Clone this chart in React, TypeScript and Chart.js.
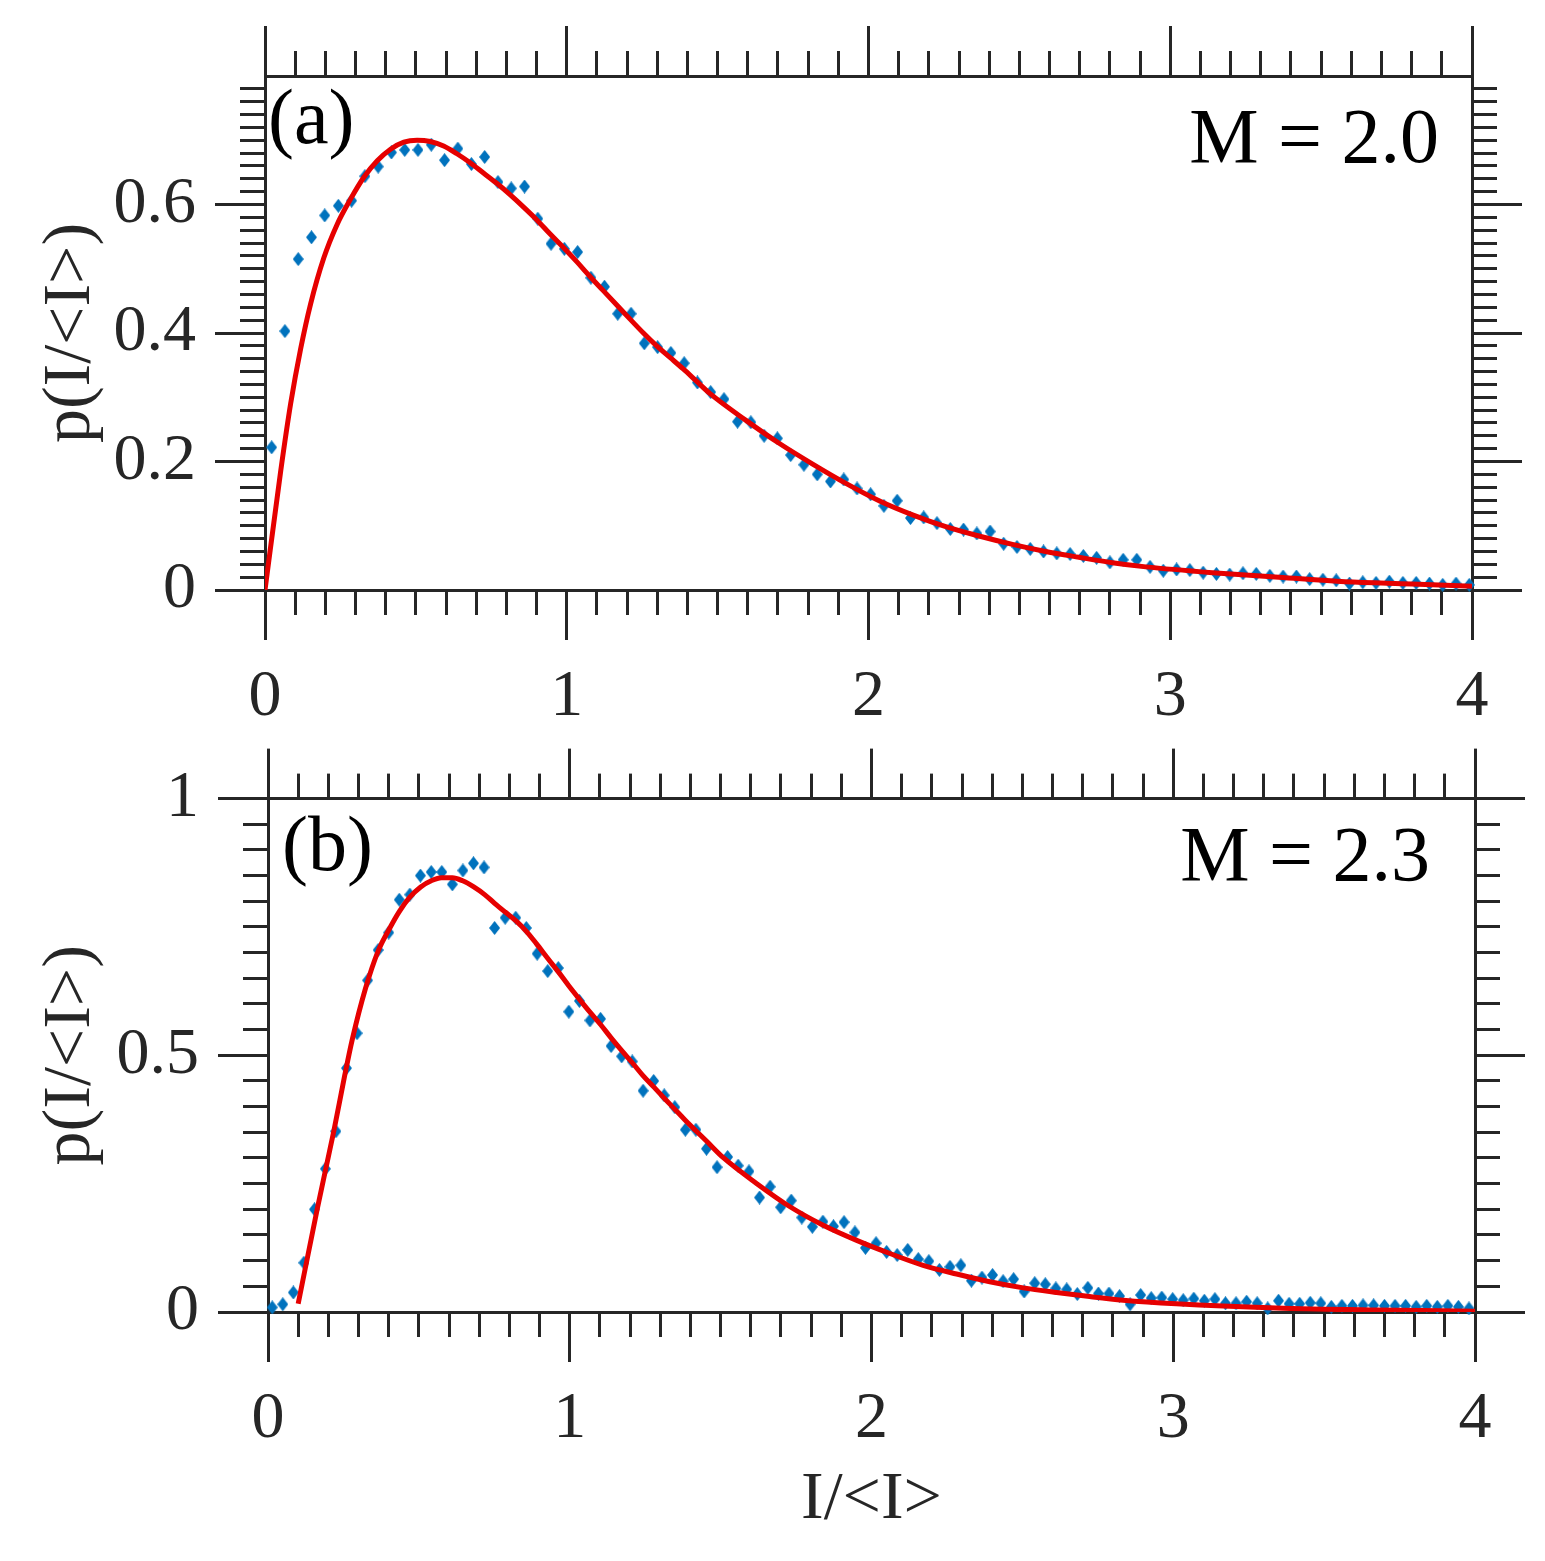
import React, { useEffect, useRef } from 'react';
import { Chart, registerables } from 'chart.js';

Chart.register(...registerables);

// ---------------- DATA ----------------
// Panel (a): measured histogram (blue diamonds)
const pointsAX = [
  0.022, 0.066, 0.110, 0.154, 0.198, 0.243, 0.287, 0.331, 0.375, 0.419,
  0.463, 0.507, 0.551, 0.595, 0.639, 0.684, 0.728, 0.772, 0.816, 0.860,
  0.904, 0.948, 0.992, 1.036, 1.080, 1.125, 1.169, 1.213, 1.257, 1.301,
  1.345, 1.389, 1.433, 1.477, 1.521, 1.566, 1.610, 1.654, 1.698, 1.742,
  1.786, 1.830, 1.874, 1.918, 1.962, 2.007, 2.051, 2.095, 2.139, 2.183,
  2.227, 2.271, 2.315, 2.359, 2.403, 2.448, 2.492, 2.536, 2.580, 2.624,
  2.668, 2.712, 2.756, 2.800, 2.844, 2.889, 2.933, 2.977, 3.021, 3.065,
  3.109, 3.153, 3.197, 3.241, 3.285, 3.330, 3.374, 3.418, 3.462, 3.506,
  3.550, 3.594, 3.638, 3.682, 3.726, 3.771, 3.815, 3.859, 3.903, 3.947,
  3.991,
];
const pointsAY = [
  0.222, 0.403, 0.515, 0.549, 0.583, 0.598, 0.606, 0.644, 0.659, 0.681,
  0.685, 0.685, 0.693, 0.669, 0.687, 0.663, 0.674, 0.635, 0.625, 0.628,
  0.578, 0.539, 0.531, 0.526, 0.486, 0.472, 0.430, 0.430, 0.384, 0.378,
  0.369, 0.353, 0.323, 0.308, 0.297, 0.262, 0.261, 0.240, 0.236, 0.210,
  0.195, 0.180, 0.169, 0.172, 0.158, 0.149, 0.131, 0.139, 0.112, 0.113,
  0.104, 0.095, 0.094, 0.088, 0.091, 0.072, 0.067, 0.064, 0.060, 0.057,
  0.056, 0.053, 0.050, 0.043, 0.047, 0.047, 0.036, 0.030, 0.032, 0.031,
  0.027, 0.025, 0.024, 0.026, 0.025, 0.022, 0.021, 0.021, 0.017, 0.016,
  0.015, 0.010, 0.012, 0.011, 0.013, 0.011, 0.011, 0.010, 0.008, 0.010,
  0.008,
];
// Panel (a): fitted curve (red)
const curveAX = [
  0, 0.052, 0.085, 0.118, 0.151, 0.195, 0.239, 0.283, 0.327, 0.372,
  0.416, 0.460, 0.504, 0.548, 0.592, 0.636, 0.680, 0.724, 0.768, 0.813,
  0.857, 0.901, 0.945, 0.989, 1.033, 1.077, 1.121, 1.165, 1.209, 1.254,
  1.298, 1.342, 1.386, 1.430, 1.474, 1.594, 1.705, 1.815, 1.925, 2.035,
  2.146, 2.256, 2.366, 2.477, 2.587, 2.697, 2.808, 2.919, 3.140, 3.360,
  3.580, 3.800, 4.000,
];
const curveAY = [
  0, 0.185, 0.290, 0.375, 0.445, 0.517, 0.569, 0.608, 0.642, 0.668,
  0.686, 0.697, 0.700, 0.698, 0.691, 0.679, 0.665, 0.649, 0.633, 0.615,
  0.596, 0.576, 0.554, 0.533, 0.511, 0.488, 0.466, 0.444, 0.422, 0.400,
  0.380, 0.362, 0.344, 0.325, 0.306, 0.264, 0.228, 0.196, 0.166, 0.139,
  0.117, 0.0986, 0.084, 0.071, 0.060, 0.051, 0.0425, 0.036, 0.027, 0.020,
  0.013, 0.0095, 0.006,
];

// Panel (b): measured histogram (blue diamonds)
const pointsBX = [
  0.014, 0.049, 0.084, 0.119, 0.154, 0.190, 0.225, 0.260, 0.295, 0.330,
  0.365, 0.400, 0.435, 0.470, 0.505, 0.541, 0.576, 0.611, 0.646, 0.681,
  0.716, 0.751, 0.786, 0.821, 0.856, 0.892, 0.927, 0.962, 0.997, 1.032,
  1.067, 1.102, 1.137, 1.172, 1.207, 1.243, 1.278, 1.313, 1.348, 1.383,
  1.418, 1.453, 1.488, 1.523, 1.558, 1.594, 1.629, 1.664, 1.699, 1.734,
  1.769, 1.804, 1.839, 1.874, 1.909, 1.945, 1.980, 2.015, 2.050, 2.085,
  2.120, 2.155, 2.190, 2.225, 2.260, 2.296, 2.331, 2.366, 2.401, 2.436,
  2.471, 2.506, 2.541, 2.576, 2.611, 2.647, 2.682, 2.717, 2.752, 2.787,
  2.822, 2.857, 2.892, 2.927, 2.962, 2.998, 3.033, 3.068, 3.103, 3.138,
  3.173, 3.208, 3.243, 3.278, 3.313, 3.349, 3.384, 3.419, 3.454, 3.489,
  3.524, 3.559, 3.594, 3.629, 3.664, 3.700, 3.735, 3.770, 3.805, 3.840,
  3.875, 3.910, 3.945, 3.980,
];
const pointsBY = [
  0.009, 0.015, 0.038, 0.096, 0.200, 0.279, 0.352, 0.475, 0.543, 0.646,
  0.705, 0.739, 0.803, 0.813, 0.850, 0.857, 0.857, 0.833, 0.860, 0.874,
  0.866, 0.748, 0.768, 0.768, 0.748, 0.698, 0.664, 0.670, 0.585, 0.606,
  0.568, 0.571, 0.518, 0.498, 0.488, 0.431, 0.450, 0.422, 0.399, 0.355,
  0.355, 0.318, 0.282, 0.302, 0.285, 0.274, 0.223, 0.244, 0.204, 0.217,
  0.184, 0.166, 0.176, 0.167, 0.175, 0.155, 0.125, 0.134, 0.117, 0.111,
  0.121, 0.103, 0.099, 0.082, 0.088, 0.091, 0.061, 0.067, 0.072, 0.060,
  0.064, 0.040, 0.056, 0.054, 0.046, 0.044, 0.035, 0.047, 0.036, 0.036,
  0.031, 0.015, 0.033, 0.027, 0.028, 0.025, 0.023, 0.026, 0.022, 0.025,
  0.017, 0.017, 0.020, 0.017, 0.007, 0.022, 0.016, 0.016, 0.018, 0.017,
  0.010, 0.012, 0.012, 0.013, 0.013, 0.012, 0.012, 0.012, 0.010, 0.012,
  0.010, 0.012, 0.010, 0.007,
];
// Panel (b): fitted curve (red)
const curveBX = [
  0.100, 0.163, 0.1915, 0.218, 0.254, 0.279, 0.323, 0.365, 0.401, 0.435,
  0.470, 0.506, 0.541, 0.575, 0.611, 0.645, 0.682, 0.718, 0.751, 0.786,
  0.822, 0.857, 0.890, 0.928, 0.963, 0.996, 1.031, 1.067, 1.102, 1.137,
  1.171, 1.208, 1.242, 1.279, 1.314, 1.348, 1.382, 1.418, 1.453, 1.510,
  1.620, 1.730, 1.840, 1.949, 2.061, 2.171, 2.282, 2.392, 2.503, 2.613,
  2.723, 2.834, 3.010, 3.341, 3.672, 4.000,
];
const curveBY = [
  0.016, 0.200, 0.279, 0.352, 0.460, 0.530, 0.630, 0.703, 0.745, 0.780,
  0.808, 0.828, 0.840, 0.846, 0.846, 0.840, 0.828, 0.813, 0.796, 0.779,
  0.762, 0.741, 0.717, 0.688, 0.662, 0.636, 0.610, 0.584, 0.560, 0.534,
  0.510, 0.485, 0.461, 0.438, 0.416, 0.395, 0.374, 0.353, 0.333, 0.300,
  0.250, 0.205, 0.169, 0.140, 0.114, 0.091, 0.074, 0.059, 0.047, 0.038,
  0.030, 0.023, 0.016, 0.008, 0.004, 0.0015,
];

// Tick labels and texts
const xTickLabels = ['0', '1', '2', '3', '4'];
const yTickLabelsA = ['0', '0.2', '0.4', '0.6'];
const yTickLabelsB = ['0', '0.5', '1'];
const yTitleText = 'p(I/<I>)';
const xTitleText = 'I/<I>';
const panelTags = ['(a)', '(b)'];
const mLabels = ['M = 2.0', 'M = 2.3'];

// ---------------- STYLE ----------------
const AXIS = '#262626';
const BLUE = '#0072BD';
const RED = '#e60000';
const FONT = '"Liberation Serif", "Times New Roman", serif';

function makeDiamond(w: number, h: number, color: string) {
  const c = document.createElement('canvas');
  c.width = w;
  c.height = h;
  const g = c.getContext('2d') as CanvasRenderingContext2D;
  g.fillStyle = color;
  g.beginPath();
  g.moveTo(w / 2, 0);
  g.lineTo(w, h / 2);
  g.lineTo(w / 2, h);
  g.lineTo(0, h / 2);
  g.closePath();
  g.fill();
  return c;
}

function labelFor(labels: string[]) {
  return (v: any) => {
    const n = Number(v);
    const f = labels.find((l) => Math.abs(Number(l) - n) < 1e-6);
    return f === undefined ? '' : f;
  };
}

interface PanelOpts {
  px: number[]; py: number[]; cx: number[]; cy: number[];
  yMax: number; yMajor: number; yMinor: number; yTickMax: number;
  yLabels: string[];
  leftW: number; rightW: number; topH: number; bottomH: number;
  showXTitle: boolean;
  tag: string; mText: string;
  tagDx: number; tagDy: number; mDx: number; mDy: number;
}

function buildConfig(o: PanelOpts, diamond: HTMLCanvasElement): any {
  const gridMajor = { drawOnChartArea: false, drawTicks: true, tickLength: 50, color: AXIS, lineWidth: 3 };
  const gridMinor = { drawOnChartArea: false, drawTicks: true, tickLength: 25, color: AXIS, lineWidth: 3 };
  const filterY = (s: any) => { s.ticks = s.ticks.filter((t: any) => t.value <= o.yTickMax + 1e-6); };
  const filterMinor = (s: any) => {
    s.ticks = s.ticks.filter((t: any) => t.value < o.yMax - 1e-6 || o.yTickMax >= o.yMax);
  };

  const annot = {
    id: 'annot',
    afterDatasetsDraw(chart: any) {
      const { ctx, chartArea } = chart;
      ctx.save();
      ctx.fillStyle = '#000';
      ctx.font = `78px ${FONT}`;
      ctx.textBaseline = 'alphabetic';
      ctx.textAlign = 'left';
      ctx.fillText(o.tag, chartArea.left + o.tagDx, chartArea.top + o.tagDy);
      ctx.textAlign = 'right';
      ctx.fillText(o.mText, chartArea.right - o.mDx, chartArea.top + o.mDy);
      ctx.restore();
    },
  };

  return {
    type: 'scatter',
    data: {
      datasets: [
        {
          label: 'fit',
          data: o.cx.map((x, i) => ({ x, y: o.cy[i] })),
          showLine: true,
          borderColor: RED,
          borderWidth: 5,
          pointRadius: 0,
          cubicInterpolationMode: 'monotone',
          fill: false,
          order: 0,
          xAxisID: 'x',
          yAxisID: 'y',
        },
        {
          label: 'data',
          data: o.px.map((x, i) => ({ x, y: o.py[i] })),
          showLine: false,
          pointStyle: diamond,
          pointRadius: 6,
          pointBackgroundColor: BLUE,
          pointBorderWidth: 0,
          order: 1,
          clip: false,
          xAxisID: 'x',
          yAxisID: 'y',
        },
      ],
    },
    options: {
      responsive: false,
      maintainAspectRatio: false,
      animation: false,
      events: [],
      layout: { padding: 0 },
      plugins: { legend: { display: false }, tooltip: { enabled: false }, title: { display: false } },
      scales: {
        x: {
          type: 'linear', axis: 'x', position: 'bottom', min: 0, max: 4, weight: 0,
          afterFit: (s: any) => { s.height = o.bottomH; },
          ticks: {
            stepSize: 1, padding: 18, autoSkip: false, maxRotation: 0,
            color: AXIS, font: { family: FONT, size: 66 },
            callback: labelFor(xTickLabels),
          },
          grid: gridMajor,
          border: { display: true, color: AXIS, width: 3 },
          title: {
            display: o.showXTitle, text: xTitleText, color: AXIS,
            font: { family: FONT, size: 68 }, padding: { top: 0, bottom: 20 },
          },
        },
        xMinor: {
          type: 'linear', axis: 'x', position: 'bottom', min: 0, max: 4, weight: -1,
          afterFit: (s: any) => { s.height = 0; },
          ticks: { stepSize: 0.1, display: false },
          grid: gridMinor,
          border: { display: false },
        },
        xTop: {
          type: 'linear', axis: 'x', position: 'top', min: 0, max: 4, weight: 0,
          afterFit: (s: any) => { s.height = o.topH; },
          ticks: { stepSize: 1, display: false },
          grid: gridMajor,
          border: { display: true, color: AXIS, width: 3 },
        },
        xTopMinor: {
          type: 'linear', axis: 'x', position: 'top', min: 0, max: 4, weight: -1,
          afterFit: (s: any) => { s.height = 0; },
          ticks: { stepSize: 0.1, display: false },
          grid: gridMinor,
          border: { display: false },
        },
        y: {
          type: 'linear', axis: 'y', position: 'left', min: 0, max: o.yMax, weight: 0,
          afterFit: (s: any) => { s.width = o.leftW; },
          afterBuildTicks: filterY,
          ticks: {
            stepSize: o.yMajor, padding: 19, autoSkip: false,
            color: AXIS, font: { family: FONT, size: 66 },
            callback: labelFor(o.yLabels),
          },
          grid: gridMajor,
          border: { display: true, color: AXIS, width: 3 },
          title: {
            display: true, text: yTitleText, color: AXIS,
            font: { family: FONT, size: 68 }, padding: { top: 30, bottom: 0 },
          },
        },
        yMinor: {
          type: 'linear', axis: 'y', position: 'left', min: 0, max: o.yMax, weight: -1,
          afterFit: (s: any) => { s.width = 0; },
          afterBuildTicks: filterMinor,
          ticks: { stepSize: o.yMinor, display: false },
          grid: gridMinor,
          border: { display: false },
        },
        yRight: {
          type: 'linear', axis: 'y', position: 'right', min: 0, max: o.yMax, weight: 0,
          afterFit: (s: any) => { s.width = o.rightW; },
          afterBuildTicks: filterY,
          ticks: { stepSize: o.yMajor, display: false },
          grid: gridMajor,
          border: { display: true, color: AXIS, width: 3 },
        },
        yRightMinor: {
          type: 'linear', axis: 'y', position: 'right', min: 0, max: o.yMax, weight: -1,
          afterFit: (s: any) => { s.width = 0; },
          afterBuildTicks: filterMinor,
          ticks: { stepSize: o.yMinor, display: false },
          grid: gridMinor,
          border: { display: false },
        },
      },
    },
    plugins: [annot],
  };
}

const W = 1545;
const HA = 740;
const HB = 821;

export default function App() {
  const refA = useRef<HTMLCanvasElement>(null);
  const refB = useRef<HTMLCanvasElement>(null);

  useEffect(() => {
    const diamond = makeDiamond(11, 14, BLUE);
    const cfgA = buildConfig({
      px: pointsAX, py: pointsAY, cx: curveAX, cy: curveAY,
      yMax: 0.8, yMajor: 0.2, yMinor: 0.02, yTickMax: 0.6,
      yLabels: yTickLabelsA,
      leftW: 265, rightW: W - 1472, topH: 76, bottomH: HA - 590,
      showXTitle: false,
      tag: panelTags[0], mText: mLabels[0],
      tagDx: 3, tagDy: 67, mDx: 33, mDy: 86,
    }, diamond);
    const cfgB = buildConfig({
      px: pointsBX, py: pointsBY, cx: curveBX, cy: curveBY,
      yMax: 1, yMajor: 0.5, yMinor: 0.05, yTickMax: 1,
      yLabels: yTickLabelsB,
      leftW: 268, rightW: W - 1475, topH: 798 - HA, bottomH: HB - (1312 - HA),
      showXTitle: true,
      tag: panelTags[1], mText: mLabels[1],
      tagDx: 14, tagDy: 71, mDx: 45, mDy: 81,
    }, diamond);
    const a = new Chart(refA.current as HTMLCanvasElement, cfgA);
    const b = new Chart(refB.current as HTMLCanvasElement, cfgB);
    return () => { a.destroy(); b.destroy(); };
  }, []);

  return (
    <div style={{ position: 'absolute', left: 0, top: 0, width: W, height: 1561, background: '#fff' }}>
      <canvas ref={refA} width={W} height={HA}
        style={{ position: 'absolute', left: 0, top: 0, width: W, height: HA }} />
      <canvas ref={refB} width={W} height={HB}
        style={{ position: 'absolute', left: 0, top: HA, width: W, height: HB }} />
    </div>
  );
}
